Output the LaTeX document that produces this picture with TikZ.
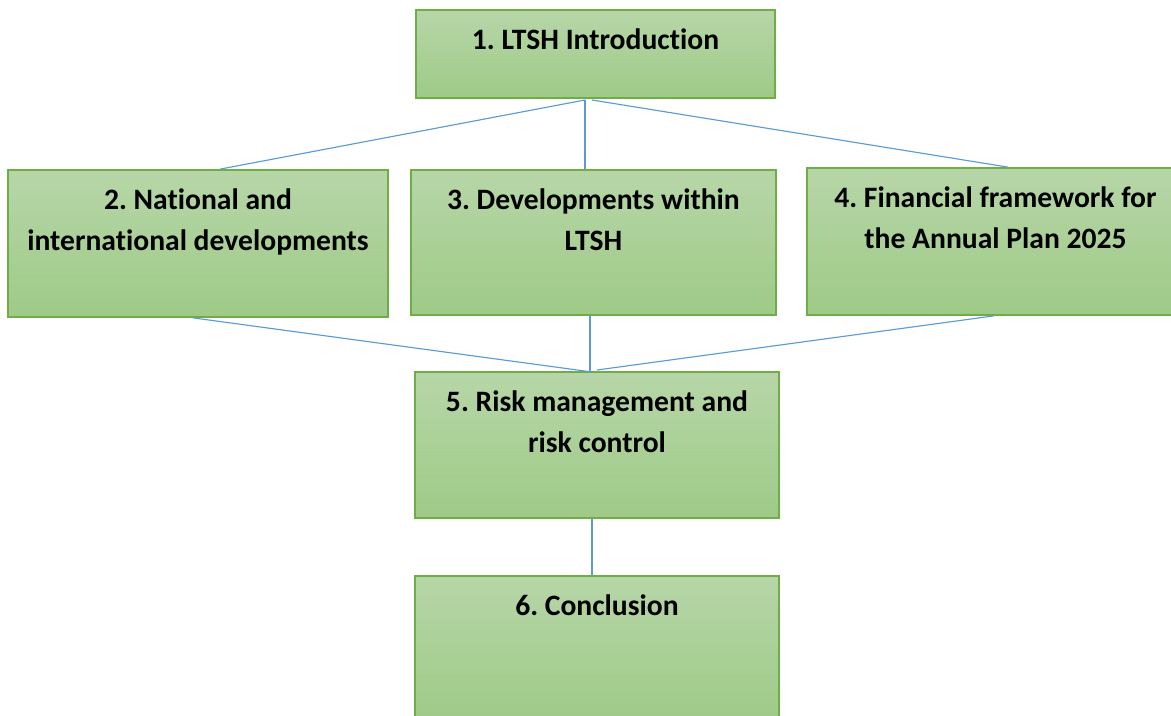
\documentclass[tikz,border=0pt]{standalone}
\usepackage{fontspec}
\setmainfont{Carlito}[Ligatures=NoCommon]
\usetikzlibrary{positioning}
\frenchspacing

\definecolor{boxtop}{RGB}{183,214,168}
\definecolor{boxbottom}{RGB}{158,202,135}
\definecolor{boxedge}{RGB}{112,173,71}
\definecolor{linkblue}{RGB}{91,155,213}

\begin{document}
\begin{tikzpicture}[x=0.02cm, y=-0.02cm,
    box/.style={rectangle, draw=boxedge, line width=1pt,
      top color=boxtop, bottom color=boxbottom, inner sep=0pt},
    lbl/.style={anchor=north, align=center, inner sep=0pt,
      font=\bfseries\fontsize{16.85}{23.4}\selectfont},
    link/.style={draw=linkblue, line width=0.65pt}]

  \useasboundingbox (0,0) rectangle (1171,716);

  % --- boxes ---
  \node[box, minimum width=7.18cm, minimum height=1.76cm] (b1) at (595.5,54) {};
  \node[box, minimum width=7.60cm, minimum height=2.94cm] (b2) at (198,243.5) {};
  \node[box, minimum width=7.30cm, minimum height=2.90cm] (b3) at (593.5,242.5) {};
  \node[box, minimum width=7.30cm, minimum height=2.94cm] (b4) at (989.5,241.5) {};
  \node[box, minimum width=7.28cm, minimum height=2.92cm] (b5) at (597,445) {};
  \node[box, minimum width=7.28cm, minimum height=2.88cm] (b6) at (597,648) {};

  % --- titles, set near the top edge ---
  \node[lbl] (t1) at ([yshift=-0.38cm]b1.north) {1. LTSH Introduction};
  \node[lbl] (t2) at ([yshift=-0.38cm]b2.north) {2. National and\\international developments};
  \node[lbl] (t3) at ([yshift=-0.38cm]b3.north) {3. Developments within\\LTSH};
  \node[lbl] (t4) at ([xshift=0.12cm, yshift=-0.39cm]b4.north) {4. Financial framework for\\the Annual Plan 2025};
  \node[lbl] (t5) at ([yshift=-0.38cm]b5.north) {5. Risk management and\\risk control};
  \node[lbl] (t6) at ([yshift=-0.38cm]b6.north) {6. Conclusion};

  % --- connectors ---
  \coordinate (top1) at (585,100);
  \coordinate (top2) at (592,100);
  \coordinate (low1) at (592,372);
  \coordinate (low2) at (597,370);

  \draw[link] (top1) -- ([xshift=0.44cm]b2.north);
  \draw[link] (top1) -- (top1 |- b3.north);
  \draw[link] (top2) -- ([xshift=0.37cm]b4.north);

  \draw[link] ([xshift=-0.10cm]b2.south) -- (low1);
  \draw[link] ([xshift=-0.07cm]b3.south) -- ([xshift=-0.07cm]b3.south |- low1);
  \draw[link] ([xshift=0.09cm]b4.south) -- (low2);

  \draw[link] ([xshift=-0.10cm]b5.south) -- ([xshift=-0.10cm]b6.north);

\end{tikzpicture}
\end{document}
